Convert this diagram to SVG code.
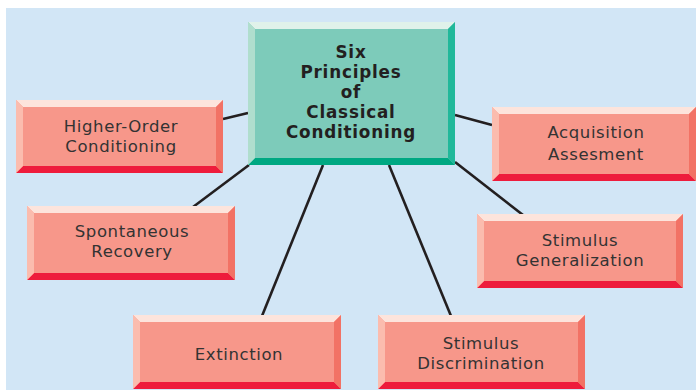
<svg xmlns="http://www.w3.org/2000/svg" width="696" height="390" viewBox="0 0 696 390">
<style>
.bg{fill:#d2e6f6}
.ln{stroke:#231f20;stroke-width:2.6;fill:none}
.cf{fill:#7dcbba}.ct{fill:#e0f2ea}.cl{fill:#b0dece}.cr{fill:#20b89a}.cb{fill:#00a882}
.sf{fill:#f7978a}.st{fill:#fde4dc}.sl{fill:#fbbcae}.sr{fill:#f27265}.sb{fill:#ee1c3c}
.t{font-family:"DejaVu Sans","Liberation Sans",sans-serif;font-size:16.5px;letter-spacing:0.6px;fill:#333;text-anchor:middle}
.tc{font-family:"DejaVu Sans","Liberation Sans",sans-serif;font-size:16.8px;letter-spacing:0.8px;font-weight:bold;fill:#231f20;text-anchor:middle}
</style>
<rect class="bg" x="6" y="8" width="690" height="382"/>
<g id="connectors">
<line class="ln" x1="223" y1="119" x2="248" y2="113"/>
<line class="ln" x1="193" y1="207" x2="249" y2="165"/>
<line class="ln" x1="262" y1="316" x2="323" y2="165"/>
<line class="ln" x1="451" y1="316" x2="389" y2="165"/>
<line class="ln" x1="455" y1="115" x2="492" y2="125"/>
<line class="ln" x1="455" y1="162" x2="523" y2="215"/>
</g>
<g id="center">
<rect class="cf" x="248" y="22" width="207" height="143"/>
<polygon class="ct" points="248,22 455,22 448,29 255,29"/>
<polygon class="cb" points="248,165 455,165 448,158 255,158"/>
<polygon class="cl" points="248,22 255,29 255,158 248,165"/>
<polygon class="cr" points="455,22 448,29 448,158 455,165"/>
<text class="tc" x="351" y="58"><tspan x="351" y="58">Six</tspan><tspan x="351" y="78">Principles</tspan><tspan x="351" y="98">of</tspan><tspan x="351" y="118">Classical</tspan><tspan x="351" y="138">Conditioning</tspan></text>
</g>
<g id="higher-order">
<rect class="sf" x="16" y="100" width="207" height="73"/>
<polygon class="st" points="16,100 223,100 216,107 23,107"/>
<polygon class="sb" points="16,173 223,173 216,166 23,166"/>
<polygon class="sl" points="16,100 23,107 23,166 16,173"/>
<polygon class="sr" points="223,100 216,107 216,166 223,173"/>
<text class="t" x="121" y="132"><tspan x="121" y="132">Higher-Order</tspan><tspan x="121" y="152">Conditioning</tspan></text>
</g>
<g id="acquisition">
<rect class="sf" x="492" y="107" width="204" height="74"/>
<polygon class="st" points="492,107 696,107 689,114 499,114"/>
<polygon class="sb" points="492,181 696,181 689,174 499,174"/>
<polygon class="sl" points="492,107 499,114 499,174 492,181"/>
<polygon class="sr" points="696,107 689,114 689,174 696,181"/>
<text class="t" x="596" y="138"><tspan x="596" y="138">Acquisition</tspan><tspan x="596" y="160">Assesment</tspan></text>
</g>
<g id="spontaneous">
<rect class="sf" x="27" y="206" width="208" height="74"/>
<polygon class="st" points="27,206 235,206 228,213 34,213"/>
<polygon class="sb" points="27,280 235,280 228,273 34,273"/>
<polygon class="sl" points="27,206 34,213 34,273 27,280"/>
<polygon class="sr" points="235,206 228,213 228,273 235,280"/>
<text class="t" x="132" y="237"><tspan x="132" y="237">Spontaneous</tspan><tspan x="132" y="257">Recovery</tspan></text>
</g>
<g id="generalization">
<rect class="sf" x="477" y="214" width="206" height="74"/>
<polygon class="st" points="477,214 683,214 676,221 484,221"/>
<polygon class="sb" points="477,288 683,288 676,281 484,281"/>
<polygon class="sl" points="477,214 484,221 484,281 477,288"/>
<polygon class="sr" points="683,214 676,221 676,281 683,288"/>
<text class="t" x="580" y="246"><tspan x="580" y="246">Stimulus</tspan><tspan x="580" y="266">Generalization</tspan></text>
</g>
<g id="extinction">
<rect class="sf" x="133" y="315" width="208" height="74"/>
<polygon class="st" points="133,315 341,315 334,322 140,322"/>
<polygon class="sb" points="133,389 341,389 334,382 140,382"/>
<polygon class="sl" points="133,315 140,322 140,382 133,389"/>
<polygon class="sr" points="341,315 334,322 334,382 341,389"/>
<text class="t" x="239" y="360">Extinction</text>
</g>
<g id="discrimination">
<rect class="sf" x="378" y="315" width="207" height="74"/>
<polygon class="st" points="378,315 585,315 578,322 385,322"/>
<polygon class="sb" points="378,389 585,389 578,382 385,382"/>
<polygon class="sl" points="378,315 385,322 385,382 378,389"/>
<polygon class="sr" points="585,315 578,322 578,382 585,389"/>
<text class="t" x="481" y="349"><tspan x="481" y="349">Stimulus</tspan><tspan x="481" y="369">Discrimination</tspan></text>
</g>
</svg>
